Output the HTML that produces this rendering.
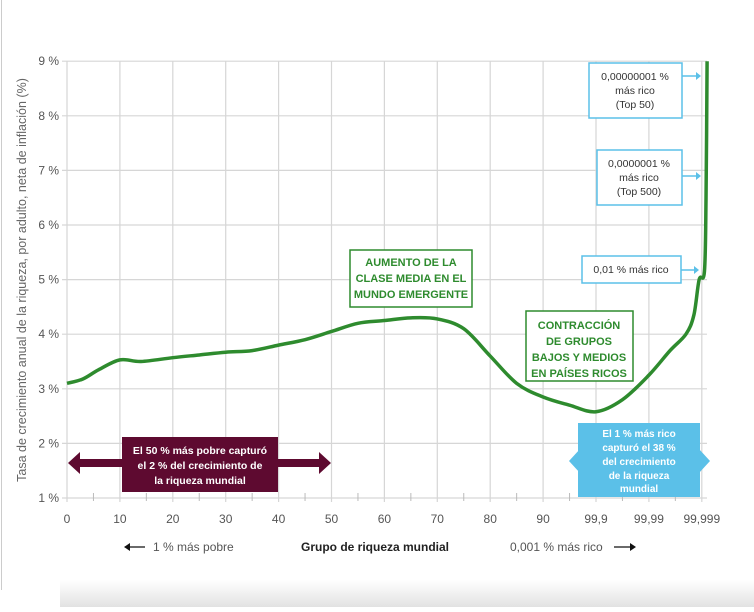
<!DOCTYPE html>
<html><head><meta charset="utf-8">
<style>
html,body{margin:0;padding:0;background:#fff;}
body{width:754px;height:607px;overflow:hidden;position:relative;font-family:"Liberation Sans",sans-serif;}
svg text{font-family:"Liberation Sans",sans-serif;}
</style></head>
<body>
<svg id="chart" width="754" height="607" viewBox="0 0 754 607" xmlns="http://www.w3.org/2000/svg">
<defs>
<linearGradient id="sh" x1="0" y1="0" x2="0" y2="1"><stop offset="0" stop-color="#fff"/><stop offset="1" stop-color="#e2e2e2"/></linearGradient>
</defs>
<line x1="1.5" y1="0" x2="1.5" y2="590" stroke="#ccc"/>
<rect x="60" y="580" width="694" height="27" fill="url(#sh)"/>
<g id="grid"></g>
<g id="axes"></g>
<path id="curve" fill="none" stroke="#2e8b2e" stroke-width="3.5" stroke-linejoin="round"/>
<text transform="translate(26,280) rotate(-90)" text-anchor="middle" font-size="12.5" fill="#666">Tasa de crecimiento anual de la riqueza, por adulto, neta de inflación (%)</text>

<g>
<rect x="350" y="250" width="122" height="57" fill="#fff" stroke="#2e8b2e" stroke-width="1.5"/>
<text x="411" y="266" text-anchor="middle" font-size="11" font-weight="bold" fill="#2e8b2e">AUMENTO DE LA</text>
<text x="411" y="282" text-anchor="middle" font-size="11" font-weight="bold" fill="#2e8b2e">CLASE MEDIA EN EL</text>
<text x="411" y="298" text-anchor="middle" font-size="11" font-weight="bold" fill="#2e8b2e">MUNDO EMERGENTE</text>
</g>
<g>
<rect x="526" y="311" width="107" height="70" fill="#fff" stroke="#2e8b2e" stroke-width="1.5"/>
<text x="579" y="329" text-anchor="middle" font-size="11" font-weight="bold" fill="#2e8b2e">CONTRACCIÓN</text>
<text x="579" y="345" text-anchor="middle" font-size="11" font-weight="bold" fill="#2e8b2e">DE GRUPOS</text>
<text x="579" y="361" text-anchor="middle" font-size="11" font-weight="bold" fill="#2e8b2e">BAJOS Y MEDIOS</text>
<text x="579" y="377" text-anchor="middle" font-size="11" font-weight="bold" fill="#2e8b2e">EN PAÍSES RICOS</text>
</g>

<g>
<rect x="589" y="63" width="93" height="55" fill="#fff" stroke="#5bc0e8" stroke-width="1.5"/>
<text x="635" y="80" text-anchor="middle" font-size="10.5" fill="#333">0,00000001 %</text>
<text x="635" y="94" text-anchor="middle" font-size="10.5" fill="#333">más rico</text>
<text x="635" y="108" text-anchor="middle" font-size="10.5" fill="#333">(Top 50)</text>
<line x1="682" y1="76" x2="697" y2="76" stroke="#5bc0e8" stroke-width="1.5"/><path d="M696,72 L701,76 L696,80Z" fill="#5bc0e8"/>
</g>
<g>
<rect x="597" y="150" width="85" height="55" fill="#fff" stroke="#5bc0e8" stroke-width="1.5"/>
<text x="639" y="167" text-anchor="middle" font-size="10.5" fill="#333">0,0000001 %</text>
<text x="639" y="181" text-anchor="middle" font-size="10.5" fill="#333">más rico</text>
<text x="639" y="195" text-anchor="middle" font-size="10.5" fill="#333">(Top 500)</text>
<line x1="682" y1="176" x2="697" y2="176" stroke="#5bc0e8" stroke-width="1.5"/><path d="M696,172 L701,176 L696,180Z" fill="#5bc0e8"/>
</g>
<g>
<rect x="582" y="256" width="99" height="27" fill="#fff" stroke="#5bc0e8" stroke-width="1.5"/>
<text x="631" y="273" text-anchor="middle" font-size="10.5" fill="#333">0,01 % más rico</text>
<line x1="681" y1="270" x2="695" y2="270" stroke="#5bc0e8" stroke-width="1.5"/><path d="M694,266 L699,270 L694,274Z" fill="#5bc0e8"/>
</g>

<g>
<path d="M68,463 L80,452 L80,459 L123,459 L123,467 L80,467 L80,474Z" fill="#5e0a30"/>
<path d="M331,463 L319,452 L319,459 L277,459 L277,467 L319,467 L319,474Z" fill="#5e0a30"/>
<rect x="122" y="437" width="156" height="55" fill="#5e0a30"/>
<text x="200" y="454" text-anchor="middle" font-size="10.5" font-weight="bold" fill="#fff">El 50 % más pobre capturó</text>
<text x="200" y="469" text-anchor="middle" font-size="10.5" font-weight="bold" fill="#fff">el 2 % del crecimiento de</text>
<text x="200" y="484" text-anchor="middle" font-size="10.5" font-weight="bold" fill="#fff">la riqueza mundial</text>
</g>
<g>
<path d="M569,461 L580,449 L580,473Z" fill="#5bc0e8"/>
<path d="M710,461 L699,449 L699,473Z" fill="#5bc0e8"/>
<rect x="578" y="423" width="122" height="74" fill="#5bc0e8"/>
<text x="639" y="437" text-anchor="middle" font-size="10" font-weight="bold" fill="#fff">El 1 % más rico</text>
<text x="639" y="451" text-anchor="middle" font-size="10" font-weight="bold" fill="#fff">capturó el 38 %</text>
<text x="639" y="465" text-anchor="middle" font-size="10" font-weight="bold" fill="#fff">del crecimiento</text>
<text x="639" y="479" text-anchor="middle" font-size="10" font-weight="bold" fill="#fff">de la riqueza</text>
<text x="639" y="492" text-anchor="middle" font-size="10" font-weight="bold" fill="#fff">mundial</text>
</g>

<g>
<line x1="126" y1="547" x2="145" y2="547" stroke="#111" stroke-width="1.3"/><path d="M124,547 L130,543 L130,551Z" fill="#111"/>
<text x="153" y="551" font-size="12" fill="#555">1 % más pobre</text>
<text x="375" y="551" text-anchor="middle" font-size="12" font-weight="bold" fill="#222">Grupo de riqueza mundial</text>
<text x="510" y="551" font-size="12" fill="#555">0,001 % más rico</text>
<line x1="614" y1="547" x2="633" y2="547" stroke="#111" stroke-width="1.3"/><path d="M636,547 L630,543 L630,551Z" fill="#111"/>
</g>
</svg>
<script>
const xLabels=["0","10","20","30","40","50","60","70","80","90","99,9","99,99","99,999"];
const yTicks=[1,2,3,4,5,6,7,8,9];
const curveX=[0,0.3,0.6,1.0,1.4,2,2.5,3,3.5,4,4.5,5,5.5,6,6.5,7,7.5,8,8.5,9,9.5,10,10.5,11,11.4,11.7,11.85,11.95,12.05,12.08,12.1];
const curveY=[3.1,3.18,3.35,3.53,3.5,3.57,3.62,3.67,3.7,3.8,3.9,4.05,4.2,4.25,4.3,4.28,4.1,3.6,3.1,2.85,2.7,2.58,2.8,3.25,3.7,4.0,4.35,5.0,5.15,6.5,9.0];
const ns="http://www.w3.org/2000/svg";
const X0=67,DX=52.9,Y0=498,DY=54.6;
const xs=i=>X0+i*DX, ys=v=>Y0-(v-1)*DY;
const grid=document.getElementById('grid'), axes=document.getElementById('axes');
function mk(tag,attrs,parent){const e=document.createElementNS(ns,tag);for(const k in attrs)e.setAttribute(k,attrs[k]);parent.appendChild(e);return e;}
yTicks.forEach(v=>{
  const l=mk('line',{x1:xs(0)-5,x2:707,y1:ys(v),y2:ys(v),stroke:'#d6d6d6','stroke-width':1.2},grid);
  
  
  const t=mk('text',{x:59,y:ys(v)+4,'text-anchor':'end','font-size':12,fill:'#555'},axes);
  t.textContent=v+' %';
  
  
});
xLabels.forEach((lab,i)=>{
  const l=mk('line',{x1:xs(i),x2:xs(i),y1:ys(9),y2:ys(1)+4,stroke:'#d6d6d6','stroke-width':1.2},grid);
  
  
  if(i<xLabels.length-1){
    const m=mk('line',{x1:xs(i+0.5),x2:xs(i+0.5),y1:ys(1)-5,y2:ys(1)+3,stroke:'#bbb','stroke-width':1},grid);
    
    
  }
  const t=mk('text',{x:xs(i),y:523,'text-anchor':'middle','font-size':12,fill:'#555'},axes);
  t.textContent=lab;
  
  
});
const pts=curveX.map((x,i)=>[xs(x),ys(curveY[i])]);
let d='M'+pts[0][0]+','+pts[0][1];
for(let i=0;i<pts.length-1;i++){
  const p0=pts[i-1]||pts[i],p1=pts[i],p2=pts[i+1],p3=pts[i+2]||p2;
  const c1=[p1[0]+(p2[0]-p0[0])/6,p1[1]+(p2[1]-p0[1])/6];
  const c2=[p2[0]-(p3[0]-p1[0])/6,p2[1]-(p3[1]-p1[1])/6];
  d+=` C${c1[0]},${c1[1]} ${c2[0]},${c2[1]} ${p2[0]},${p2[1]}`;
}
document.getElementById('curve').setAttribute('d',d);
</script>
</body></html>
